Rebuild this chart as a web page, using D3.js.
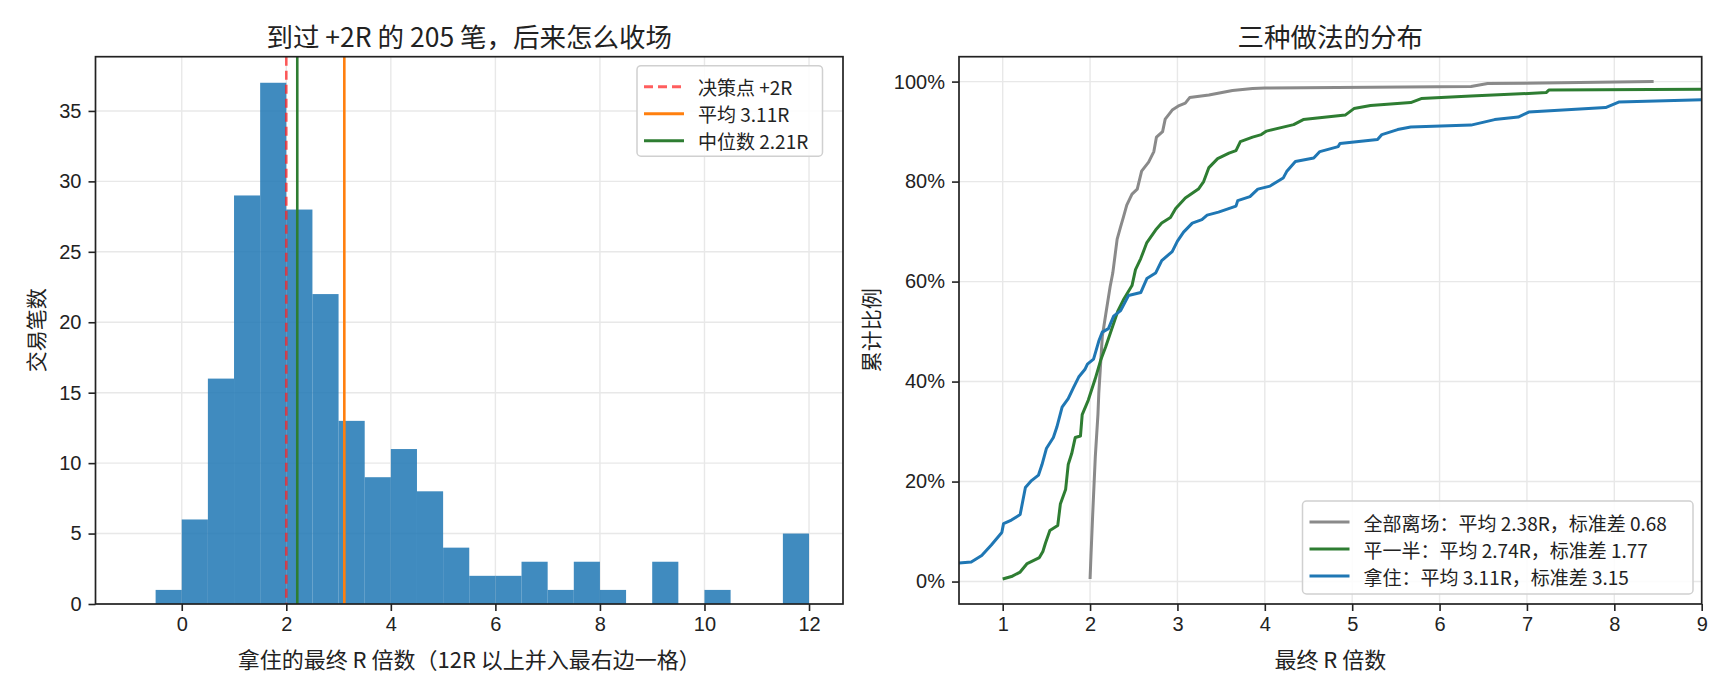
<!DOCTYPE html>
<html>
<head>
<meta charset="utf-8">
<script src="https://cdn.jsdelivr.net/npm/d3@7"></script>
<style>
  html, body { margin: 0; padding: 0; background: #fff; }
  svg { display: block; font-family: "Noto Sans CJK SC", "Noto Sans", sans-serif; }
  .tick line { stroke: #222; stroke-width: 1.6; }
  .tick text { fill: #222; font-size: 20px; }
</style>
</head>
<body>
<div id="chart"></div>
<script>
// ---- data ----
const BIN_WIDTH = 0.5;
const HIST_BIN_LEFT = [-1, -0.5, 0, 0.5, 1, 1.5, 2, 2.5, 3, 3.5, 4, 4.5, 5, 5.5, 6, 6.5, 7, 7.5, 8, 8.5, 9, 9.5, 10, 10.5, 11, 11.5];
const HIST_COUNTS   = [0, 1, 6, 16, 29, 37, 28, 22, 13, 9, 11, 8, 4, 2, 2, 3, 1, 3, 1, 0, 3, 0, 1, 0, 0, 5];

const DECISION_R = 2;
const MEAN_R = 3.11;
const MEDIAN_R = 2.21;

const HIST_X_TICKS = [0, 2, 4, 6, 8, 10, 12];
const HIST_Y_TICKS = [0, 5, 10, 15, 20, 25, 30, 35];

// empirical CDFs: [final R, cumulative share]
const CDF_EXIT_ALL = [
  [2.00, 0.005], [2.01, 0.05], [2.03, 0.134], [2.06, 0.25], [2.09, 0.334], [2.10, 0.377],
  [2.14, 0.49], [2.18, 0.535], [2.23, 0.59], [2.26, 0.617], [2.31, 0.685], [2.35, 0.71],
  [2.38, 0.728], [2.42, 0.753], [2.48, 0.775], [2.54, 0.785], [2.59, 0.821], [2.67, 0.839],
  [2.73, 0.86], [2.76, 0.889], [2.83, 0.90], [2.86, 0.925], [2.94, 0.943], [3.02, 0.952],
  [3.09, 0.957], [3.14, 0.968], [3.36, 0.973], [3.63, 0.982], [3.86, 0.986], [4.0, 0.987],
  [6.36, 0.99], [6.55, 0.996], [8.45, 1.0]
];
const CDF_HALF = [
  [1.00, 0.005], [1.10, 0.01], [1.20, 0.019], [1.28, 0.036], [1.42, 0.048], [1.46, 0.06],
  [1.49, 0.077], [1.54, 0.102], [1.63, 0.112], [1.66, 0.155], [1.72, 0.184], [1.75, 0.234],
  [1.79, 0.256], [1.83, 0.288], [1.89, 0.291], [1.91, 0.334], [1.98, 0.363], [2.06, 0.406],
  [2.12, 0.442], [2.18, 0.47], [2.25, 0.506], [2.32, 0.542], [2.38, 0.563], [2.48, 0.592],
  [2.52, 0.624], [2.58, 0.646], [2.65, 0.678], [2.75, 0.703], [2.82, 0.717], [2.92, 0.728],
  [2.98, 0.746], [3.09, 0.767], [3.24, 0.785], [3.30, 0.80], [3.36, 0.828], [3.46, 0.846],
  [3.59, 0.857], [3.67, 0.862], [3.72, 0.88], [3.86, 0.889], [3.96, 0.894], [4.02, 0.901],
  [4.33, 0.914], [4.44, 0.924], [4.92, 0.933], [5.02, 0.946], [5.21, 0.952], [5.67, 0.958],
  [5.79, 0.966], [6.36, 0.971], [7.22, 0.978], [7.25, 0.983], [9.2, 0.985]
];
const CDF_HOLD = [
  [-0.45, 0.005], [-0.1, 0.008], [0.05, 0.012], [0.2, 0.02], [0.35, 0.03], [0.5, 0.037],
  [0.64, 0.039], [0.76, 0.052], [0.87, 0.073], [0.99, 0.098], [1.01, 0.116], [1.10, 0.123],
  [1.20, 0.134], [1.26, 0.188], [1.33, 0.202], [1.41, 0.213], [1.45, 0.234], [1.50, 0.266],
  [1.58, 0.288], [1.62, 0.309], [1.68, 0.349], [1.75, 0.366], [1.81, 0.388], [1.87, 0.409],
  [1.94, 0.424], [1.97, 0.435], [2.04, 0.445], [2.10, 0.481], [2.14, 0.499], [2.21, 0.506],
  [2.27, 0.531], [2.35, 0.542], [2.44, 0.572], [2.58, 0.578], [2.65, 0.606], [2.75, 0.617],
  [2.82, 0.642], [2.94, 0.66], [3.00, 0.681], [3.07, 0.699], [3.17, 0.717], [3.28, 0.724],
  [3.34, 0.733], [3.47, 0.739], [3.67, 0.751], [3.69, 0.762], [3.83, 0.77], [3.92, 0.785],
  [4.06, 0.791], [4.21, 0.807], [4.25, 0.82], [4.35, 0.84], [4.56, 0.847], [4.63, 0.86],
  [4.84, 0.87], [4.86, 0.876], [5.29, 0.884], [5.34, 0.894], [5.52, 0.904], [5.67, 0.909],
  [6.36, 0.913], [6.63, 0.924], [6.90, 0.929], [7.02, 0.939], [7.90, 0.948], [8.05, 0.959],
  [9.3, 0.965]
];

const CDF_SERIES = [
  { name: "全部离场：平均 2.38R，标准差 0.68", color: "#8a8a8a", points: CDF_EXIT_ALL },
  { name: "平一半：平均 2.74R，标准差 1.77", color: "#2e7d32", points: CDF_HALF },
  { name: "拿住：平均 3.11R，标准差 3.15", color: "#1f77b4", points: CDF_HOLD }
];
const CDF_X_TICKS = [1, 2, 3, 4, 5, 6, 7, 8, 9];
const CDF_Y_TICKS = [0, 0.2, 0.4, 0.6, 0.8, 1.0];

// ---- layout ----
const W = 1725, H = 690;
const boxL = { left: 95.5, right: 843, top: 56.7, bottom: 604 };
const boxR = { left: 959, right: 1701.7, top: 56.7, bottom: 604 };
const GRID = "#e8e8e8";
const INK = "#222";

const svg = d3.select("#chart").append("svg")
  .attr("width", W).attr("height", H);
svg.append("rect").attr("width", W).attr("height", H).attr("fill", "#fff");

function grid(g, xs, ys, x, y, box) {
  g.selectAll(".gx").data(xs).enter().append("line")
    .attr("x1", d => x(d)).attr("x2", d => x(d))
    .attr("y1", box.top).attr("y2", box.bottom)
    .attr("stroke", GRID).attr("stroke-width", 1.4);
  g.selectAll(".gy").data(ys).enter().append("line")
    .attr("x1", box.left).attr("x2", box.right)
    .attr("y1", d => y(d)).attr("y2", d => y(d))
    .attr("stroke", GRID).attr("stroke-width", 1.4);
}

function axes(x, y, box, xt, yt, yfmt) {
  const ax = svg.append("g")
    .attr("transform", `translate(0,${box.bottom})`)
    .call(d3.axisBottom(x).tickValues(xt).tickSize(7).tickPadding(6).tickSizeOuter(0).tickFormat(d3.format("d")));
  ax.select(".domain").remove();
  const ay = svg.append("g")
    .attr("transform", `translate(${box.left},0)`)
    .call(d3.axisLeft(y).tickValues(yt).tickSize(7).tickPadding(7).tickSizeOuter(0).tickFormat(yfmt));
  ay.select(".domain").remove();
  svg.append("rect")
    .attr("x", box.left).attr("y", box.top)
    .attr("width", box.right - box.left).attr("height", box.bottom - box.top)
    .attr("fill", "none").attr("stroke", INK).attr("stroke-width", 1.7);
}

function legend(x0, y0, w, h, rows) {
  const g = svg.append("g");
  g.append("rect")
    .attr("x", x0).attr("y", y0).attr("width", w).attr("height", h)
    .attr("rx", 4).attr("fill", "#fff").attr("fill-opacity", 0.85)
    .attr("stroke", "#d0d0d0").attr("stroke-width", 1.5);
  rows.forEach((r, i) => {
    const cy = y0 + 21 + i * 27;
    g.append("line")
      .attr("x1", x0 + 7).attr("x2", x0 + 47)
      .attr("y1", cy).attr("y2", cy)
      .attr("stroke", r.color).attr("stroke-width", 3)
      .attr("stroke-opacity", r.opacity || 1)
      .attr("stroke-dasharray", r.dash || null);
    g.append("text")
      .attr("x", x0 + 61).attr("y", cy)
      .attr("dominant-baseline", "central")
      .attr("font-size", 19).attr("fill", INK)
      .text(r.label);
  });
}

// ================= left: histogram =================
const xL = d3.scaleLinear().domain([-1.65, 12.65]).range([boxL.left, boxL.right]);
const yL = d3.scaleLinear().domain([0, 38.85]).range([boxL.bottom, boxL.top]);

grid(svg.append("g"), HIST_X_TICKS, HIST_Y_TICKS, xL, yL, boxL);

const bins = HIST_BIN_LEFT.map((b, i) => ({ x0: b, x1: b + BIN_WIDTH, n: HIST_COUNTS[i] }));
svg.append("g").selectAll("rect").data(bins.filter(d => d.n > 0)).enter().append("rect")
  .attr("x", d => xL(d.x0))
  .attr("width", d => xL(d.x1) - xL(d.x0))
  .attr("y", d => yL(d.n))
  .attr("height", d => yL(0) - yL(d.n))
  .attr("fill", "#1f77b4").attr("fill-opacity", 0.85);

const vlines = [
  { v: DECISION_R, color: "#ff2020", opacity: 0.72, dash: "9,5", label: "决策点 +2R" },
  { v: MEAN_R, color: "#ff7f0e", label: "平均 3.11R" },
  { v: MEDIAN_R, color: "#2e7d32", label: "中位数 2.21R" }
];
svg.append("g").selectAll("line").data(vlines).enter().append("line")
  .attr("x1", d => xL(d.v)).attr("x2", d => xL(d.v))
  .attr("y1", boxL.top).attr("y2", boxL.bottom)
  .attr("stroke", d => d.color)
  .attr("stroke-opacity", d => d.opacity || 1)
  .attr("stroke-dasharray", d => d.dash || null)
  .attr("stroke-width", 2.6);

axes(xL, yL, boxL, HIST_X_TICKS, HIST_Y_TICKS, d3.format("d"));

legend(637, 65.7, 185.5, 90.5, vlines);

svg.append("text")
  .attr("x", (boxL.left + boxL.right) / 2).attr("y", 35)
  .attr("text-anchor", "middle").attr("dominant-baseline", "central")
  .attr("font-size", 26.5).attr("fill", INK)
  .text("到过 +2R 的 205 笔，后来怎么收场");
svg.append("text")
  .attr("x", (boxL.left + boxL.right) / 2).attr("y", 658)
  .attr("text-anchor", "middle").attr("dominant-baseline", "central")
  .attr("font-size", 22).attr("fill", INK)
  .text("拿住的最终 R 倍数（12R 以上并入最右边一格）");
svg.append("text")
  .attr("transform", `translate(35,${(boxL.top + boxL.bottom) / 2}) rotate(-90)`)
  .attr("text-anchor", "middle").attr("dominant-baseline", "central")
  .attr("font-size", 21).attr("fill", INK)
  .text("交易笔数");

// ================= right: CDFs =================
const xR = d3.scaleLinear().domain([0.5, 9]).range([boxR.left, boxR.right]);
const yR = d3.scaleLinear().domain([-0.0449, 1.0498]).range([boxR.bottom, boxR.top]);

grid(svg.append("g"), CDF_X_TICKS, CDF_Y_TICKS, xR, yR, boxR);

svg.append("clipPath").attr("id", "clipR").append("rect")
  .attr("x", boxR.left).attr("y", boxR.top)
  .attr("width", boxR.right - boxR.left).attr("height", boxR.bottom - boxR.top);

const line = d3.line().x(d => xR(d[0])).y(d => yR(d[1]));
svg.append("g").attr("clip-path", "url(#clipR)")
  .selectAll("path").data(CDF_SERIES).enter().append("path")
  .attr("d", d => line(d.points))
  .attr("fill", "none")
  .attr("stroke", d => d.color)
  .attr("stroke-width", 3)
  .attr("stroke-linejoin", "round");

axes(xR, yR, boxR, CDF_X_TICKS, CDF_Y_TICKS, d => Math.round(d * 100) + "%");

legend(1302.5, 501, 390.5, 93, CDF_SERIES.map(s => ({ color: s.color, label: s.name })));

svg.append("text")
  .attr("x", (boxR.left + boxR.right) / 2).attr("y", 35)
  .attr("text-anchor", "middle").attr("dominant-baseline", "central")
  .attr("font-size", 26.5).attr("fill", INK)
  .text("三种做法的分布");
svg.append("text")
  .attr("x", (boxR.left + boxR.right) / 2).attr("y", 658)
  .attr("text-anchor", "middle").attr("dominant-baseline", "central")
  .attr("font-size", 22).attr("fill", INK)
  .text("最终 R 倍数");
svg.append("text")
  .attr("transform", `translate(870,${(boxR.top + boxR.bottom) / 2}) rotate(-90)`)
  .attr("text-anchor", "middle").attr("dominant-baseline", "central")
  .attr("font-size", 21).attr("fill", INK)
  .text("累计比例");
</script>
</body>
</html>
